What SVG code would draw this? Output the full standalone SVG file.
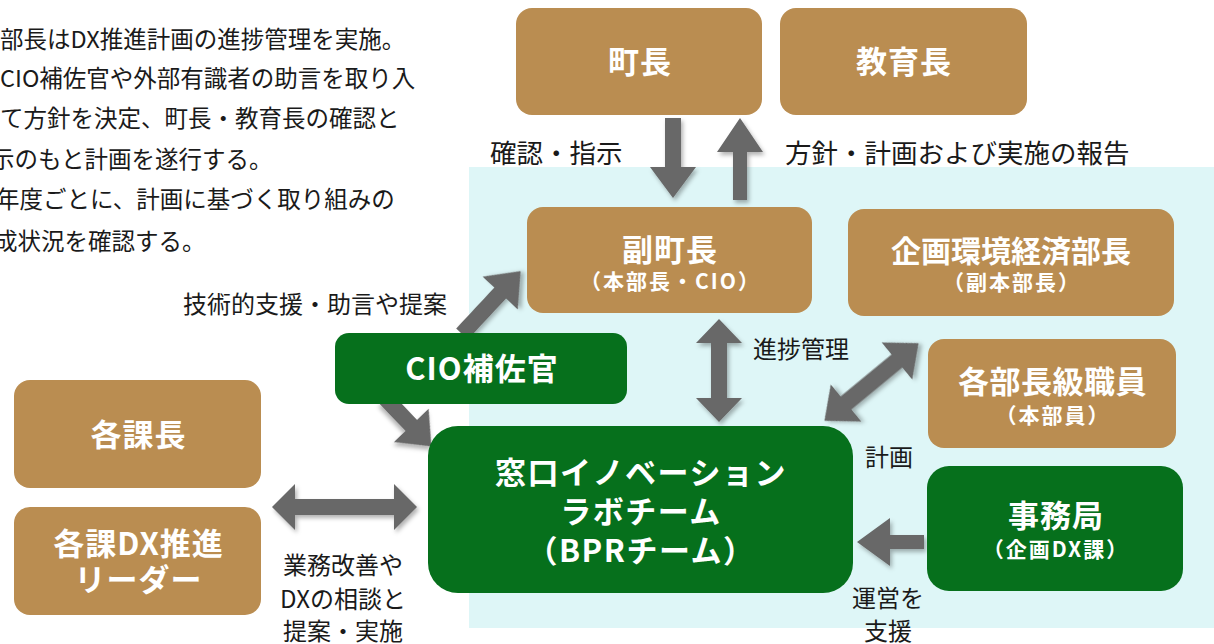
<svg xmlns="http://www.w3.org/2000/svg" width="1214" height="644" viewBox="0 0 1214 644">
<defs>
<style>
.tan{fill:#BA8D51;}
.grn{fill:#06701C;}
.t{font-family:"Noto Sans CJK JP","Noto Sans",sans-serif;fill:#fff;font-weight:bold;text-anchor:middle;}
.big{font-size:31px;letter-spacing:1px;}
.sub{font-size:21px;letter-spacing:2px;}
.lbl{font-family:"Noto Sans CJK JP","Noto Sans",sans-serif;fill:#1a1a1a;font-size:24px;}
.top{font-size:26.5px;}
.note{font-family:"Noto Sans CJK JP","Noto Sans",sans-serif;fill:#1a1a1a;font-size:23.5px;}
.arr{fill:#676767;filter:url(#sh);}
</style>
<filter id="sh" x="-30%" y="-30%" width="160%" height="160%">
<feDropShadow dx="2" dy="3" stdDeviation="2" flood-color="#000" flood-opacity="0.3"/>
</filter>
</defs>
<rect x="469" y="167" width="745" height="461" fill="#DEF6F7"/>
<g id="note">
<text class="note" x="0" y="48">部長はDX推進計画の進捗管理を実施。</text>
<text class="note" x="0" y="87">CIO補佐官や外部有識者の助言を取り入</text>
<text class="note" x="0" y="127">て方針を決定、町長・教育長の確認と</text>
<text class="note" x="-9" y="168">示のもと計画を遂行する。</text>
<text class="note" x="-4" y="208">年度ごとに、計画に基づく取り組みの</text>
<text class="note" x="-6" y="250">成状況を確認する。</text>
</g>
<g id="connectors">
<polygon class="arr" points="665,118 681,118 681,167 696,167 673,198 650,167 665,167"/>
<polygon class="arr" points="733,200 747,200 747,152 763,152 740,118 717,152 733,152"/>
<polygon class="arr" points="719,319 742,343 727,343 727,398 742,398 719,422 696,398 711,398 711,343 696,343"/>
<polygon class="arr" transform="translate(871.5 382) rotate(-39.5)" points="-61,0 -33,-24 -33,-8.5 33,-8.5 33,-24 61,0 33,24 33,8.5 -33,8.5 -33,24"/>
<polygon class="arr" transform="translate(462 334) rotate(-47)" points="0,-8 56,-8 56,-24 86,0 56,24 56,8 0,8"/>
<polygon class="arr" transform="translate(385 398) rotate(46.2)" points="0,-8 38,-8 38,-24 67,0 38,24 38,8 0,8"/>
<polygon class="arr" points="272,507 295,484 295,499 394,499 394,484 417,507 394,530 394,515 295,515 295,530"/>
<polygon class="arr" points="857,542 890,518 890,535 924,535 924,549 890,549 890,566"/>
</g>
<g id="labels">
<text class="lbl top" x="490" y="163">確認・指示</text>
<text class="lbl top" x="785" y="163">方針・計画および実施の報告</text>
<text class="lbl" x="183" y="313">技術的支援・助言や提案</text>
<text class="lbl" x="753" y="358">進捗管理</text>
<text class="lbl" x="865" y="466">計画</text>
<text class="lbl" x="888" y="607" text-anchor="middle">運営を</text>
<text class="lbl" x="888" y="640" text-anchor="middle">支援</text>
<text class="lbl" x="343" y="574" text-anchor="middle">業務改善や</text>
<text class="lbl" x="343" y="608" text-anchor="middle">DXの相談と</text>
<text class="lbl" x="343" y="640" text-anchor="middle">提案・実施</text>
</g>
<g id="n-chocho">
<rect class="tan" x="516" y="8" width="246" height="107" rx="16"/>
<text class="t big" x="640" y="73">町長</text>
</g>
<g id="n-kyoikucho">
<rect class="tan" x="780" y="8" width="247" height="107" rx="16"/>
<text class="t big" x="904" y="73">教育長</text>
</g>
<g id="n-fukuchocho">
<rect class="tan" x="527" y="207" width="285" height="106" rx="16"/>
<text class="t big" x="670" y="261">副町長</text>
<text class="t sub" x="670.5" y="289">（本部長・CIO）</text>
</g>
<g id="n-kikaku">
<rect class="tan" x="848" y="209" width="326" height="107" rx="16"/>
<text class="t big" x="1011" y="262" style="font-size:30px;letter-spacing:0">企画環境経済部長</text>
<text class="t sub" x="1012" y="290">（副本部長）</text>
</g>
<g id="n-kakubucho">
<rect class="tan" x="928" y="339" width="248" height="109" rx="16"/>
<text class="t big" x="1052.5" y="393" style="letter-spacing:0.5px">各部長級職員</text>
<text class="t sub" x="1053" y="423">（本部員）</text>
</g>
<g id="n-cio">
<rect class="grn" x="335" y="333" width="292" height="71" rx="14"/>
<text class="t big" x="482" y="380">CIO補佐官</text>
</g>
<g id="n-bpr">
<rect class="grn" x="428" y="426" width="425" height="167" rx="30"/>
<text class="t big" x="641" y="484" style="letter-spacing:1.5px">窓口イノベーション</text>
<text class="t big" x="641" y="523" style="letter-spacing:1.5px">ラボチーム</text>
<text class="t big" x="641" y="562" style="letter-spacing:1.5px">（BPRチーム）</text>
</g>
<g id="n-jimukyoku">
<rect class="grn" x="927" y="466" width="256" height="125" rx="22"/>
<text class="t big" x="1056" y="527">事務局</text>
<text class="t sub" x="1056" y="557">（企画DX課）</text>
</g>
<g id="n-kakakacho">
<rect class="tan" x="14" y="380" width="247" height="108" rx="16"/>
<text class="t big" x="138.5" y="446">各課長</text>
</g>
<g id="n-leader">
<rect class="tan" x="14" y="507" width="247" height="108" rx="16"/>
<text class="t big" x="138.5" y="555">各課DX推進</text>
<text class="t big" x="138.5" y="591">リーダー</text>
</g>
</svg>
